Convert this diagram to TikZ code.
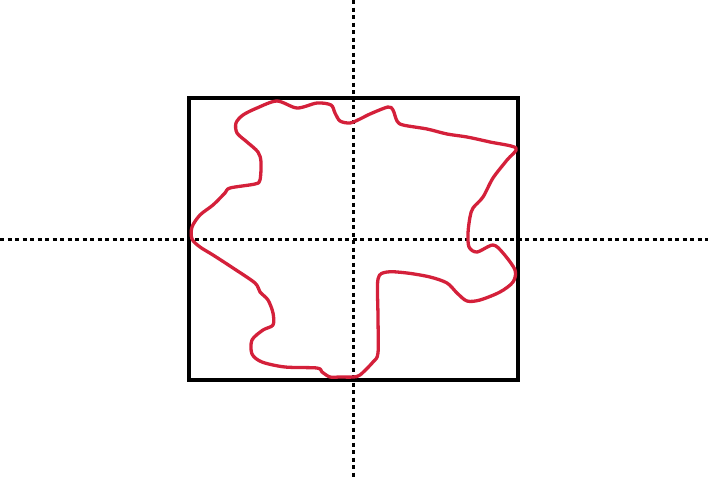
\documentclass[tikz,border=0pt]{standalone}
\definecolor{curvecol}{RGB}{212,32,58}
\begin{document}
\begin{tikzpicture}[x=1pt,y=-1pt,
  axisline/.style={line width=3pt,dash pattern=on 4pt off 3.5pt},
  frame/.style={line width=4pt},
  blob/.style={line width=3.3pt,curvecol,line join=round}]
\useasboundingbox (0,0) rectangle (708,479);
\coordinate (vt) at (353,0); \coordinate (vb) at (353,479);
\coordinate (hl) at (0,239); \coordinate (hr) at (708,239);
\draw[axisline] (vt) -- (vb);
\draw[axisline] (hl) -- (hr);
\draw[frame] (189,98) rectangle (518,380);
\draw[blob] plot[smooth cycle,tension=0.5] coordinates {
(277,101) (297,108) (317,103) (331,105) (335,113) (340,121) (350,123) (360,119) (370,114) (388,107) (393,110) (397,121) (403,125) (427,129) (447,134) (467,137) (490,142) (516,148) (507,160) (493,178) (483,197) (473,208) (470,217) (468,233) (469,247) (477,252) (493,245) (503,253) (515,270) (513,282) (500,292) (480,300) (467,301) (457,293) (447,283) (430,277) (407,273) (387,272) (378,279) (378,317) (378,353) (373,362) (360,375) (353,377) (340,377) (330,377) (322,372) (317,368) (285,367) (262,362) (252,354) (252,340) (263,330) (273,325) (273,313) (268,300) (260,292) (255,283) (233,268) (213,255) (200,247) (192,239) (192,227) (200,215) (213,205) (225,193) (230,188) (255,184) (260,180) (261,162) (258,152) (247,142) (237,133) (236,123) (243,115) (257,108)};
\end{tikzpicture}
\end{document}
